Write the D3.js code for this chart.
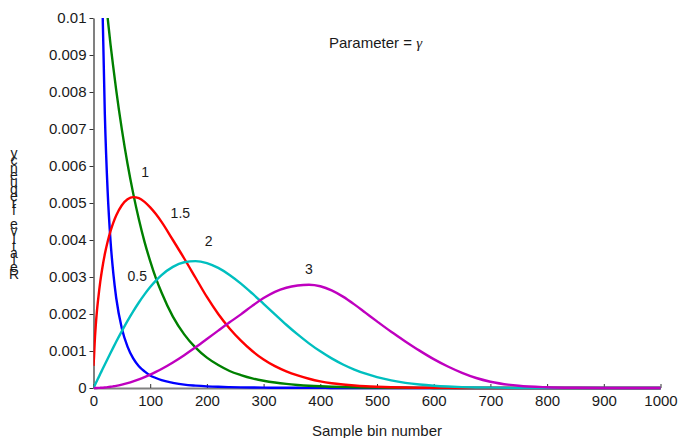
<!DOCTYPE html>
<html>
<head>
<meta charset="utf-8">
<script src="https://cdn.jsdelivr.net/npm/d3@7"></script>
<style>
  body { margin: 0; background: #fff; }
  text { font-family: 'Liberation Sans', Arial, sans-serif; fill: #1a1a1a; }
</style>
</head>
<body>
<svg id="chart" width="678" height="438"></svg>
<script>
// sample bins the curves were read at
const bins = [0, 1, 2, 4, 6, 8, 10, 12, 15, 20, 25, 30, 35, 40, 50, 60, 70, 80, 90, 100,
  110, 120, 140, 160, 180, 200, 220, 240, 260, 280, 300, 320, 340, 360, 380, 400, 420, 440,
  460, 480, 500, 525, 550, 575, 600, 625, 650, 675, 700, 750, 800, 850, 900, 950, 1000];

// relative frequency for each gamma, same order as bins
const gamma05 = [0.2, 0.1357, 0.081, 0.0451, 0.0307, 0.0227, 0.0178, 0.0143, 0.0109, 0.0074,
  0.0053, 0.00398, 0.00309, 0.00244, 0.00161, 0.00112, 0.0008, 0.00059, 0.00045, 0.00034,
  0.00027, 0.00021, 0.00014, 0.00009, 0.000064, 0.000045, 0.000032, 0.000024, 0.000018,
  0.000013, 0.00001, 0.000008, 0.000006, 0.000005, 0.000004, 0.000003, 0.000002, 0.000002,
  0.000001, 0.000001, 0.000001, 0, 0, 0, 0, 0, 0, 0, 0, 0, 0, 0, 0, 0, 0];
const gamma1 = [0.01429, 0.01408, 0.01388, 0.01349, 0.01311, 0.01274, 0.01238, 0.01203,
  0.01153, 0.01071, 0.01, 0.00929, 0.00866, 0.00806, 0.00699, 0.00606, 0.00526, 0.00456,
  0.00395, 0.00343, 0.00297, 0.00258, 0.00193, 0.00145, 0.00109, 0.00082, 0.00062, 0.00046,
  0.00035, 0.00026, 0.000196, 0.000147, 0.00011, 0.000083, 0.000062, 0.000047, 0.000035,
  0.000026, 0.00002, 0.000015, 0.000011, 0.000007, 0.000005, 0.000003, 0.000002, 0.000001,
  0.000001, 0, 0, 0, 0, 0, 0, 0, 0];
const gamma15 = [0.0006, 0.00085, 0.0012, 0.00169, 0.00207, 0.00237, 0.00264, 0.00288,
  0.00319, 0.00362, 0.00396, 0.00424, 0.00447, 0.00466, 0.00494, 0.0051, 0.00516, 0.00513,
  0.00503, 0.00488, 0.0047, 0.00449, 0.004, 0.0035, 0.00298, 0.00246, 0.002, 0.00161, 0.00128,
  0.001, 0.00077, 0.00059, 0.00045, 0.00034, 0.00025, 0.00018, 0.00013, 0.000095, 0.000068,
  0.000048, 0.000034, 0.000021, 0.000013, 0.000008, 0.000005, 0.000003, 0.000002, 0.000001,
  0, 0, 0, 0, 0, 0, 0];
const gamma2 = [0, 0.000032, 0.000064, 0.000128, 0.000192, 0.000256, 0.000319, 0.000383,
  0.000478, 0.000636, 0.000792, 0.000946, 0.001098, 0.001248, 0.001537, 0.001812, 0.002071,
  0.002311, 0.00253, 0.002727, 0.002901, 0.003051, 0.003274, 0.003399, 0.00343, 0.003375,
  0.003245, 0.003056, 0.002821, 0.002555, 0.002274, 0.00199, 0.00171, 0.001448, 0.001207,
  0.00099, 0.0008, 0.000636, 0.000499, 0.000386, 0.000293, 0.000205, 0.000139, 0.000093,
  0.000061, 0.000039, 0.000024, 0.000015, 0.000009, 0.000002, 0, 0, 0, 0, 0];
const gamma3 = [0, 0, 0, 0.000001, 0.000001, 0.000002, 0.000004, 0.000005, 0.000008,
  0.000015, 0.000023, 0.000033, 0.000045, 0.000058, 0.000091, 0.000131, 0.000178, 0.000232,
  0.000293, 0.00036, 0.000434, 0.000514, 0.000691, 0.000888, 0.0011, 0.001323, 0.00155,
  0.001775, 0.00199, 0.00222, 0.00243, 0.0026, 0.00271, 0.00277, 0.00279, 0.00275,
  0.00264, 0.00247, 0.00226, 0.00203, 0.0018, 0.00152, 0.00126, 0.00101, 0.00078, 0.00058,
  0.00041, 0.00027, 0.00017, 0.00006, 0.00002, 0.000005, 0, 0, 0];

const seriesList = [
  { name: '0.5', values: gamma05, color: '#0000ff' },
  { name: '1', values: gamma1, color: '#008000' },
  { name: '1.5', values: gamma15, color: '#ff0000' },
  { name: '2', values: gamma2, color: '#00bfbf' },
  { name: '3', values: gamma3, color: '#bf00bf' },
];

// curve labels: [text, bin, frequency]
const curveLabels = [
  ['1', 84, 0.0057],
  ['1.5', 136, 0.0046],
  ['2', 196, 0.00385],
  ['0.5', 60, 0.00288],
  ['3', 373, 0.00308],
];

const xTicks = [0, 100, 200, 300, 400, 500, 600, 700, 800, 900, 1000];
const yTicks = [0, 0.001, 0.002, 0.003, 0.004, 0.005, 0.006, 0.007, 0.008, 0.009, 0.01];
const yLabel = 'Relative frequency';

const svg = d3.select('#chart');
const x = d3.scaleLinear().domain([0, 1000]).range([93.5, 660.5]);
const y = d3.scaleLinear().domain([0, 0.01]).range([388, 18]);

/* axes: ticks on y point out, ticks on x point into the plot */
function AppendAxes() {
  const yAxis = svg.append('g')
    .attr('transform', `translate(${x(0)},0)`)
    .call(d3.axisLeft(y).tickValues(yTicks).tickSizeInner(4).tickSizeOuter(0)
      .tickPadding(3)
      .tickFormat((d) => String(+d.toFixed(3))));
  const xAxis = svg.append('g')
    .attr('transform', `translate(0,${y(0)})`)
    .call(d3.axisBottom(x).tickValues(xTicks).tickSizeInner(-4).tickSizeOuter(0)
      .tickPadding(7)
      .tickFormat((d) => String(d)));
  [xAxis, yAxis].forEach((axis) => {
    axis.select('.domain').attr('stroke', '#808080').attr('stroke-width', 2);
    axis.selectAll('.tick line').attr('stroke', '#333').attr('stroke-width', 1);
    axis.selectAll('.tick text')
      .style('font-family', "'Liberation Sans', Arial, sans-serif")
      .style('font-size', '15px')
      .attr('fill', '#1a1a1a');
  });
}

function AppendCurves() {
  svg.append('clipPath').attr('id', 'plot-clip')
    .append('rect')
    .attr('x', x(0))
    .attr('y', y(0.01))
    .attr('width', x(1000) - x(0) + 2)
    .attr('height', y(0) - y(0.01) + 2);
  const line = d3.line()
    .curve(d3.curveMonotoneX)
    .x((d) => x(d[0]))
    .y((d) => y(d[1]));
  seriesList.forEach((s) => {
    svg.append('path')
      .datum(bins.map((b, i) => [b, s.values[i]]))
      .attr('clip-path', 'url(#plot-clip)')
      .attr('fill', 'none')
      .attr('stroke', s.color)
      .attr('stroke-width', 2.4)
      .attr('stroke-linejoin', 'round')
      .attr('d', line);
  });
}

function AppendTexts() {
  curveLabels.forEach(([txt, bin, f]) => {
    svg.append('text')
      .attr('x', x(bin))
      .attr('y', y(f))
      .style('font-size', '14px')
      .text(txt);
  });

  const param = svg.append('text')
    .attr('x', 329)
    .attr('y', 48)
    .style('font-size', '15px')
    .text('Parameter = ');
  param.append('tspan')
    .style('font-family', "'Liberation Serif', 'Times New Roman', serif")
    .style('font-style', 'italic')
    .text('γ');

  svg.append('text')
    .attr('x', x(500))
    .attr('y', 436)
    .attr('text-anchor', 'middle')
    .style('font-size', '15px')
    .text('Sample bin number');

  // y label comes out as upright letters stacked bottom to top
  const yl = svg.append('text')
    .attr('text-anchor', 'middle')
    .style('font-size', '14px');
  yLabel.split('').forEach((ch, i) => {
    yl.append('tspan')
      .attr('x', 14)
      .attr('y', 279 - i * 7.1)
      .text(ch);
  });
}

AppendAxes();
AppendCurves();
AppendTexts();
</script>
</body>
</html>
